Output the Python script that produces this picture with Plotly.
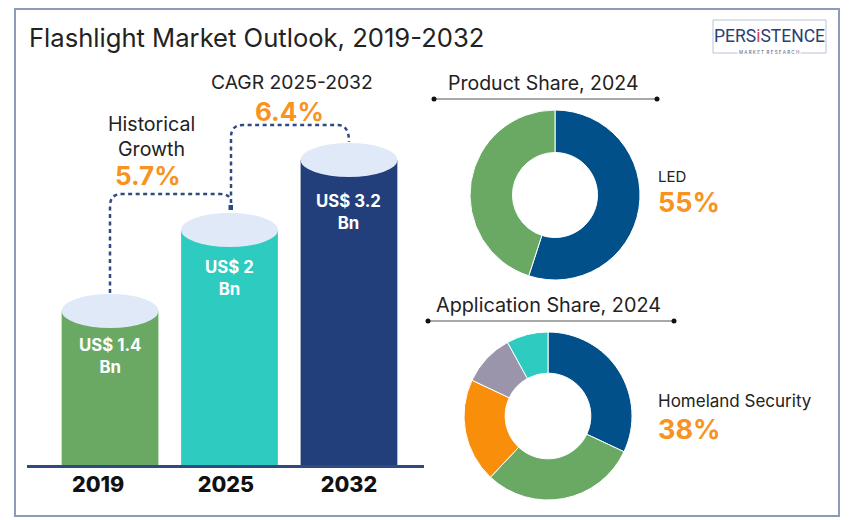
import plotly.graph_objects as go

FONT = "Inter"
W, H = 861, 520

# bar heights as drawn in the picture (not to scale with the labels)
years = ["2019", "2025", "2032"]
year_ticks = [-0.1, 0.97, 2]
bar_labels = ["US$ 1.4<br>Bn", "US$ 2<br>Bn", "US$ 3.2<br>Bn"]
bar_heights = [154, 235, 305]
label_drop = [45, 48, 52]
bar_colors = ["#6aa964", "#2ecbc1", "#223f7b"]

product_labels = ["LED", "Other"]
product_values = [55, 45]
product_colors = ["#02508a", "#6aa964"]

app_labels = ["Homeland Security", "Segment B", "Segment C", "Segment D", "Segment E"]
app_values = [32, 30, 20, 10, 8]
app_colors = ["#02508a", "#6aa964", "#f98e0a", "#9a95ab", "#2ecbc1"]

NAVY = "#2f4a80"
ORANGE = "#f7931e"
INK = "#222222"


def pie_domain(cx, cy, r):
    return dict(x=[(cx - r) / W, (cx + r) / W], y=[1 - (cy + r) / H, 1 - (cy - r) / H])


def label(x, y, text, size=18, color=INK, anchor="center", bold=False, family=FONT, bg=None):
    return dict(x=x, y=y, xref="x2", yref="y2", text=f"<b>{text}</b>" if bold else text,
                showarrow=False, xanchor=anchor, yanchor="middle", bgcolor=bg,
                font=dict(family=family, size=size, color=color))


fig = go.Figure()

fig.add_trace(go.Bar(x=[0, 1, 2], y=bar_heights, width=0.81, marker=dict(color=bar_colors, line_width=0),
                     showlegend=False, hoverinfo="skip"))

fig.add_trace(go.Pie(labels=product_labels, values=product_values, hole=0.5, sort=False,
                     direction="clockwise", rotation=0, textinfo="none", showlegend=False,
                     marker=dict(colors=product_colors, line=dict(color="white", width=1)),
                     domain=pie_domain(555, 195, 85)))
fig.add_trace(go.Pie(labels=app_labels, values=app_values, hole=0.51, sort=False,
                     direction="clockwise", rotation=0, textinfo="none", showlegend=False,
                     marker=dict(colors=app_colors, line=dict(color="white", width=1)),
                     domain=pie_domain(548, 416, 84)))

# rules with end dots under the donut headings
for xs, y in [([434, 657], 99), ([428, 674], 321)]:
    fig.add_trace(go.Scatter(x=xs, y=[y, y], xaxis="x2", yaxis="y2", mode="lines+markers",
                             line=dict(color="#8c8c8c", width=1.5),
                             marker=dict(color="#111111", size=5), showlegend=False, hoverinfo="skip"))

shapes = [
    dict(type="rect", xref="x2", yref="y2", x0=15, x1=839, y0=9, y1=516,
         line=dict(color="#8c9bb8", width=2), fillcolor="rgba(0,0,0,0)", layer="below"),
    dict(type="rect", xref="x2", yref="y2", x0=713, x1=826, y0=20, y1=53,
         line=dict(color="#b9c2d6", width=1), fillcolor="white"),
    dict(type="path", xref="x2", yref="y2", path="M 110,293 L 110,206 Q 110,194 122,194 L 220,194 Q 229,194 231,200",
         line=dict(color=NAVY, width=2.5, dash="4px,3.5px")),
    dict(type="path", xref="x2", yref="y2", path="M 231,203 L 231,137 Q 231,125 243,125 L 338,125 Q 349,125 349,142",
         line=dict(color=NAVY, width=2.5, dash="4px,3.5px")),
    dict(type="rect", xref="x2", yref="y2", x0=228.5, x1=233, y0=205, y1=210, fillcolor=NAVY, line_width=0),
]
for i, h in enumerate(bar_heights):
    shapes.append(dict(type="circle", xref="x", yref="y", x0=i - 0.405, x1=i + 0.405, y0=h - 17, y1=h + 17,
                       fillcolor="#dfe9f8", line_width=0))

annotations = [
    label(27, 37, "Flashlight Market Outlook, 2019-2032", size=25.6, anchor="left"),
    label(769, 36, "PERS<span style='color:#d8434e'>i</span>STENCE", size=17.5, color="#2b3f73", family="Roboto"),
    label(769, 52, "M A R K E T  R E S E A R C H", size=4.5, color="#4a5a85", bg="white"),
    label(292, 82, "CAGR 2025-2032", size=19.3),
    label(289, 111, "6.4%", size=26, color=ORANGE, bold=True),
    label(151, 124, "Historical", size=19.6),
    label(151, 149, "Growth", size=19.6),
    label(148, 175, "5.7%", size=26, color=ORANGE, bold=True),
    label(543, 83, "Product Share, 2024", size=19.5),
    label(548, 305, "Application Share, 2024", size=19.8),
    label(656, 176, "LED", size=15, anchor="left"),
    label(656, 202, "55%", size=27, color=ORANGE, anchor="left", bold=True),
    label(656, 401, "Homeland Security", size=17, anchor="left"),
    label(656, 429, "38%", size=27, color=ORANGE, anchor="left", bold=True),
]
for i, text in enumerate(bar_labels):
    annotations.append(dict(x=i, y=bar_heights[i] - label_drop[i], xref="x", yref="y", text=f"<b>{text}</b>",
                            showarrow=False, align="center", yanchor="middle",
                            font=dict(family=FONT, size=16.8, color="white")))

fig.update_layout(
    width=W, height=H, margin=dict(l=0, r=0, t=0, b=0), autosize=False,
    paper_bgcolor="white", plot_bgcolor="rgba(0,0,0,0)", showlegend=False,
    xaxis=dict(domain=[27 / W, 424 / W], range=[-0.695, 2.628], tickmode="array", tickvals=year_ticks,
               ticktext=years, showgrid=False, zeroline=False, showline=True, linecolor=NAVY, linewidth=2.5,
               ticks="", ticklabelstandoff=-2,
               tickfont=dict(family=FONT, size=21.5, color="#111111", weight=800)),
    yaxis=dict(domain=[1 - 465 / H, 1], range=[0, 465], visible=False),
    xaxis2=dict(domain=[0, 1], range=[0, W], visible=False, anchor="y2"),
    yaxis2=dict(domain=[0, 1], range=[H, 0], visible=False, anchor="x2"),
    shapes=shapes, annotations=annotations,
)

# page body has a default margin that would push the figure off the window
fig.write_html("out.html", config=dict(displayModeBar=False), post_script="document.body.style.margin='0';")
